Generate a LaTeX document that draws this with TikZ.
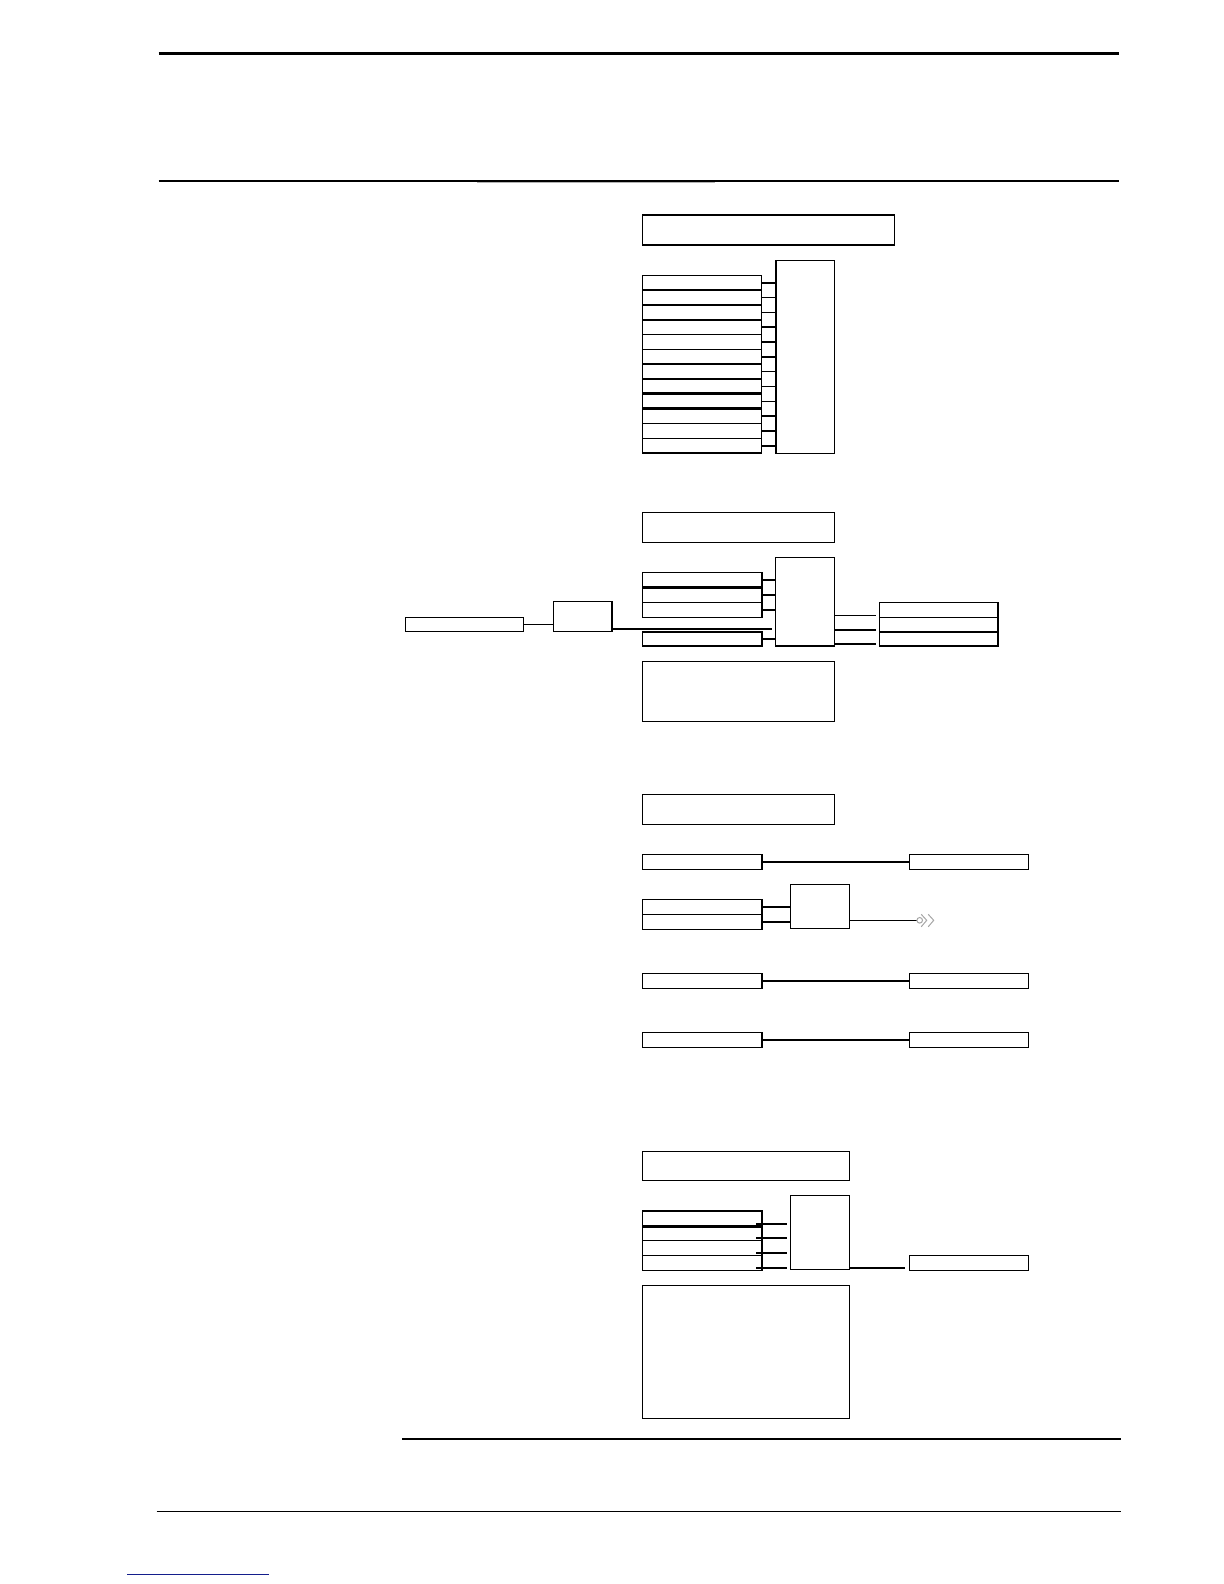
\documentclass[tikz,border=0pt]{standalone}
\usepackage{xcolor}
\definecolor{linkblue}{RGB}{20,30,140}
\usetikzlibrary{calc}

\begin{document}
\begin{tikzpicture}[
  x=0.5pt, y=-0.5pt,
  pbox/.style={rectangle, draw, line width=0.8pt, inner sep=0pt, outer sep=0pt,
               anchor=north west},
  wd/.style={minimum width=#1*0.5pt},
  ht/.style={minimum height=#1*0.5pt},
  wire/.style={line width=0.8pt},
  rule/.style={line width=1.1pt},
  offpg/.style={draw=gray!70, line width=0.5pt}
]
\useasboundingbox (0,0) rectangle (1224,1584);

% Page rules
\draw[rule] (158.5,53.5) -- (1119,53.5);
\draw[rule] (158.5,180.8) -- (1119,180.8);
\draw[gray!60, line width=0.4pt] (477,182.2) -- (715,182.2);
\draw[rule] (402,1439) -- (1121,1439);
\draw[wire] (156.5,1511.3) -- (1121,1511.3);
\draw[linkblue, line width=0.7pt] (127,1574.7) -- (269,1574.7);

% Block 1
\node[pbox, wd=252, ht=30]    (t1) at (642.3,215) {};
\node[pbox, wd=58.6, ht=193]  (m1) at (775.7,260.3) {};
\foreach \i in {0,...,11} {
  \pgfmathsetmacro\yy{275.3+\i*14.83}
  \node[pbox, wd=119, ht=14.83] (r\i) at (642.3,\yy) {};
  \draw[wire] (r\i.east) -- (r\i.east -| m1.west);
}
\draw[line width=1.5pt] (r8.north west) -- (r8.north east);
\draw[line width=1.5pt] (r9.north west) -- (r9.north east);

% Block 2
\node[pbox, wd=192.2, ht=30]  (t2) at (642.3,512.3) {};
\node[pbox, wd=59, ht=88.7]   (m2) at (775.5,557.3) {};
\node[pbox, wd=119.4, ht=15]  (s1) at (642.3,572.3) {};
\node[pbox, wd=119.4, ht=15]  (s2) at (642.3,587.3) {};
\node[pbox, wd=119.4, ht=15]  (s3) at (642.3,602.3) {};
\node[pbox, wd=119.4, ht=14.3] (s4) at (642.3,631.7) {};
\draw[line width=1.5pt] (s2.north west) -- (s2.north east);
\node[pbox, wd=117.9, ht=14]  (inp) at (405.4,617.3) {};
\node[pbox, wd=58.9, ht=30]   (sel) at (553.3,601.3) {};
\node[pbox, wd=118.6, ht=15]  (o1) at (879.5,602.3) {};
\node[pbox, wd=118.6, ht=14.4] (o2) at (879.5,617.3) {};
\node[pbox, wd=118.6, ht=14.3] (o3) at (879.5,631.7) {};
\node[pbox, wd=192.2, ht=60]  (n2) at (642.3,661.3) {};

\foreach \s in {s1,s2,s3,s4}
  \draw[wire] (\s.east) -- (\s.east -| m2.west);
\draw[wire] (inp.east) -- (inp.east -| sel.west);
\draw[wire] ($(sel.south east)+(0,-2.3)$) -- ($(sel.south east -| m2.west)+(-4,-2.3)$);
\foreach \o in {o1,o2,o3}
  \draw[wire] ($(\o.south west -| m2.east)+(0,-2)$) -- ($(\o.south west)+(-4,-2)$);

% Block 3
\node[pbox, wd=192, ht=30]    (t3) at (642.3,794.3) {};
\node[pbox, wd=119.4, ht=15]  (a1) at (642.3,854.3) {};
\node[pbox, wd=119, ht=15]    (b1) at (909.3,854.3) {};
\node[pbox, wd=119.4, ht=15]  (c1) at (642.3,899.3) {};
\node[pbox, wd=119.4, ht=15]  (c2) at (642.3,914.3) {};
\node[pbox, wd=59, ht=44]     (g3) at (790.3,884.3) {};
\node[pbox, wd=119.4, ht=15]  (a3) at (642.3,973.3) {};
\node[pbox, wd=119, ht=15]    (b3) at (909.3,973.3) {};
\node[pbox, wd=119.4, ht=15]  (a4) at (642.3,1032.3) {};
\node[pbox, wd=119, ht=15]    (b4) at (909.3,1032.3) {};
\coordinate (cont) at (916.7,920.3);

\draw[wire] (a1.east) -- (b1.west);
\draw[wire] (a3.east) -- (b3.west);
\draw[wire] (a4.east) -- (b4.west);
\draw[wire] (c1.east) -- (c1.east -| g3.west);
\draw[wire] (c2.east) -- (c2.east -| g3.west);
\draw[wire] (g3.east |- cont) -- (cont);
\draw[offpg] ($(cont)+(3,0)$) circle (2.8);
\draw[offpg] ($(cont)+(4.5,-6)$) -- ($(cont)+(10,0)$) -- ($(cont)+(4.5,6.5)$);
\draw[offpg] ($(cont)+(11.5,-6)$) -- ($(cont)+(17,0)$) -- ($(cont)+(11.5,6.5)$);

% Block 4
\node[pbox, wd=207, ht=29]    (t4) at (642.3,1151.3) {};
\node[pbox, wd=59, ht=74]     (m4) at (790.3,1195.3) {};
\node[pbox, wd=119.4, ht=15]  (q1) at (642.3,1211) {};
\node[pbox, wd=119.4, ht=14.3] (q2) at (642.3,1226) {};
\node[pbox, wd=119.4, ht=15]  (q3) at (642.3,1240.3) {};
\node[pbox, wd=119.4, ht=15]  (q4) at (642.3,1255.3) {};
\draw[line width=1.5pt] (q2.north west) -- (q2.north east);
\node[pbox, wd=119, ht=15]    (r4) at (909.3,1255.3) {};
\node[pbox, wd=207, ht=133]   (n4) at (642.3,1285.3) {};

\foreach \q in {q1,q2,q3,q4}
  \draw[wire] ($(\q.south east)+(-5.4,-2.3)$) -- ($(\q.south east -| m4.west)+(-3.6,-2.3)$);
\draw[wire] ($(m4.south east)+(0,-1.3)$) -- ($(m4.south east -| r4.west)+(-4.3,-1.3)$);
\end{tikzpicture}
\end{document}
